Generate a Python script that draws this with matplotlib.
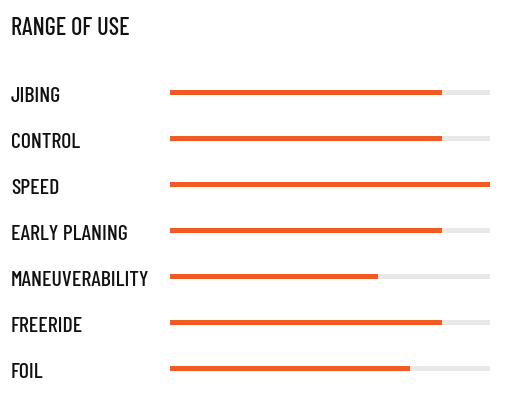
import matplotlib.pyplot as plt

titulo = 'RANGE OF USE'
categorias = ['JIBING', 'CONTROL', 'SPEED', 'EARLY PLANING',
              'MANEUVERABILITY', 'FREERIDE', 'FOIL']
valores = [0.85, 0.85, 1.0, 0.85, 0.65, 0.85, 0.75]

naranja = '#f15a22'
gris = '#e8e8e8'

plt.rcParams['font.family'] = ['Barlow Condensed', 'DejaVu Sans']

fig = plt.figure(figsize=(5.32, 3.96), dpi=100)
ax = fig.add_axes([0, 0, 1, 1])
ax.set_xlim(0, 532)
ax.set_ylim(396, 0)
ax.axis('off')

# posiciones de las filas (en pixeles)
y0, paso = 92.5, 46
x0, largo = 170, 320
ys = [y0 + paso * i for i in range(len(categorias))]

ax.barh(ys, [largo] * len(ys), left=x0, height=5, color=gris, linewidth=0)
ax.barh(ys, [v * largo for v in valores], left=x0, height=5, color=naranja, linewidth=0)

for y, c in zip(ys, categorias):
    ax.text(11, y + 10, c, fontsize=15.7, fontweight=500, color='#111111',
            va='baseline', ha='left')

ax.text(11, 35, titulo, fontsize=17.5, fontweight=500, color='#111111',
        va='baseline', ha='left')

fig.savefig('out.png', dpi=100)
